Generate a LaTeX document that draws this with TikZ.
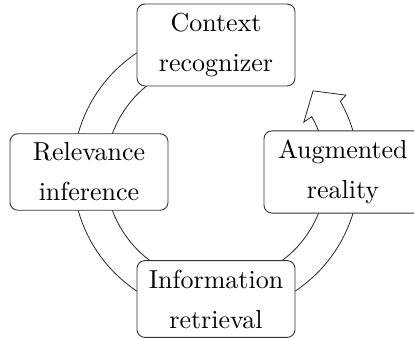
\documentclass[tikz,border=0pt]{standalone}
\begin{document}
\begin{tikzpicture}[x=1pt,y=1pt,
  ring/.style={line width=0.8pt, draw=black!85, line join=miter},
  stage/.style={draw=black!80, line width=0.9pt, fill=white,
    scale=2.6, transform shape,
    rounded corners=8pt, minimum width=60.8pt, inner sep=3.5pt,
    align=center, font=\fontsize{10}{15.4}\selectfont}]
\useasboundingbox (0,0) rectangle (414,339);
\clip (0,0) rectangle (414,339);
\coordinate (O) at (216,167);
% arrow head corners
\coordinate (hr) at ([shift={(O)}]30.6:151);
\coordinate (tip) at ([shift={(O)}]39.9:126.5);
\coordinate (hl) at ([shift={(O)}]29.6:101);
% hollow circular arrow running counterclockwise
\draw[ring] ([shift={(O)}]90:143) arc[start angle=90,end angle=389.6,radius=143]
  -- (hr) -- (tip) -- (hl) -- ([shift={(O)}]30:110.5)
  arc[start angle=30,end angle=-270,radius=110.5];
% stages of the cycle
\node[stage] (ctx) at ([shift={(O)}]90:127) {Context\\recognizer};
\node[stage] (rel) at ([shift={(O)}]180:127) {Relevance\\inference};
\node[stage] (inf) at ([shift={(O)}]270:127) {Information\\retrieval};
\node[stage] (aug) at ([shift={(O)}]0:127) {Augmented\\reality};
\end{tikzpicture}
\end{document}
